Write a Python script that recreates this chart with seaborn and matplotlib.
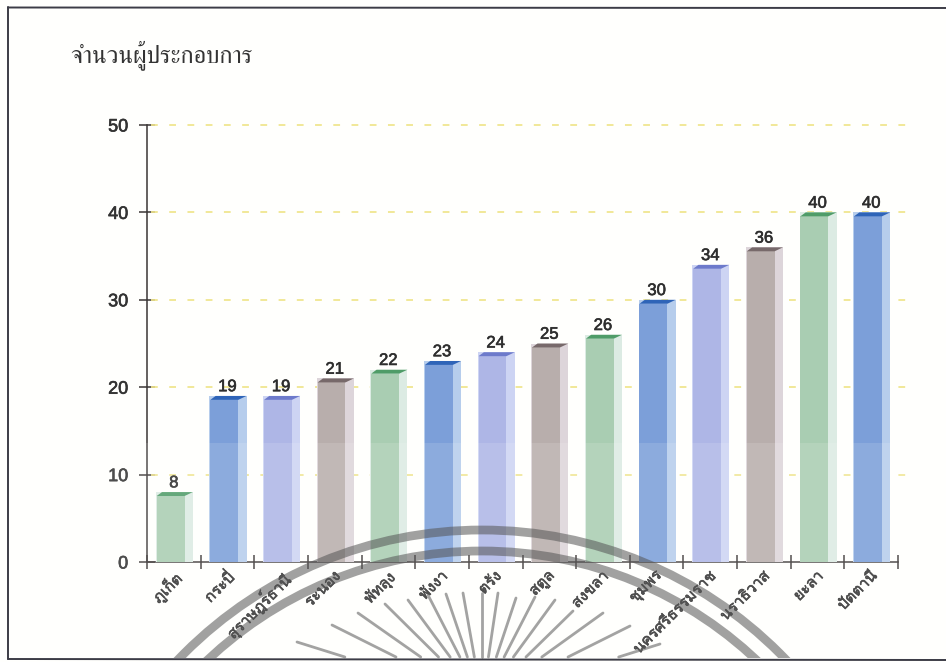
import matplotlib
matplotlib.use("Agg")
import matplotlib.pyplot as plt
import matplotlib.patheffects as pe
from matplotlib.patches import Circle, Polygon, Rectangle
import numpy as np
import pandas as pd
import seaborn as sns

provinces = ["ภูเก็ต", "กระบี่", "สุราษฎร์ธานี", "ระนอง", "พัทลุง", "พังงา", "ตรัง",
             "สตูล", "สงขลา", "ชุมพร", "นครศรีธรรมราช", "นราธิวาส", "ยะลา", "ปัตตานี"]
operators = [8, 19, 19, 21, 22, 23, 24, 25, 26, 30, 34, 36, 40, 40]
y_ticks = [0, 10, 20, 30, 40, 50]
y_title = "จำนวนผู้ประกอบการ"

# Four colour families repeat along the bars: front face, side face, top face.
front_cycle = ["#A9CDB2", "#7C9FD9", "#AEB6E6", "#B8AEAC"]
side_cycle = ["#DCEBE3", "#B6CDEC", "#CDD4F3", "#DDD5DA"]
top_cycle = ["#4F9C68", "#2E64B8", "#6D7ACB", "#77696A"]

W, H = 946, 662
sns.set_theme(style="white", rc={"axes.facecolor": "none"})
plt.rcParams["font.family"] = ["Liberation Sans", "Loma", "DejaVu Sans"]

# A hairline stroke gives small text a little more weight.
heavier = [pe.withStroke(linewidth=0.45, foreground="#333333")]

fig = plt.figure(figsize=(W / 100, H / 100), dpi=100, facecolor="#FFFFFD")
ax = fig.add_axes([147 / W, 1 - 562 / H, 751 / W, 437 / H])

positions = np.arange(len(provinces))
n = len(provinces)
frame = pd.DataFrame({
    "pos": positions,
    "value": operators,
    "side_pos": positions + 0.01,
    "front_pos": positions - 0.06,
    "front_height": np.array(operators) - 0.45,
})

# A wide pale bar behind gives the side face, a narrower one in front the main face.
sns.barplot(data=frame, x="side_pos", y="value", hue="pos", native_scale=True,
            palette=[side_cycle[i % 4] for i in range(n)], width=0.69, saturation=1,
            legend=False, linewidth=0, ax=ax, zorder=3)
sns.barplot(data=frame, x="front_pos", y="front_height", hue="pos", native_scale=True,
            palette=[front_cycle[i % 4] for i in range(n)], width=0.52, saturation=1,
            legend=False, linewidth=0, ax=ax, zorder=4)

ax.set_xlim(-0.5, n - 0.5)
ax.set_ylim(0, 50)

# Slanted top face on every bar, and the value above it.
for i, (p, v) in enumerate(zip(positions, operators)):
    left, right = p - 0.32, p + 0.20
    ax.add_patch(Polygon([(left, v - 0.45), (right, v - 0.45), (right + 0.155, v), (left + 0.1, v)],
                         closed=True, facecolor=top_cycle[i % 4], edgecolor="none", zorder=5))
    ax.text(p, v + 0.2, str(v), ha="center", va="bottom", fontsize=12,
            color="#2E2E2E", zorder=6, path_effects=heavier)

# Dashed guide lines run a little past the end of the axis.
for t in y_ticks[1:]:
    ax.plot([-0.43, n - 0.5 + 0.19], [t, t], color="#EFE58C", lw=1.25, zorder=1,
            dashes=(3.9, 6.6), clip_on=False)

ax.set_xticks(np.arange(n + 1) - 0.5)
ax.set_xticklabels([])
ax.set_yticks(y_ticks)
ax.tick_params(axis="x", which="major", direction="inout", length=10, width=1.1,
               color="#3A3635", bottom=True)
ax.tick_params(axis="y", which="major", direction="inout", length=11, width=1.1,
               color="#3A3635", left=True, pad=8, labelsize=13, labelcolor="#333333")
for label in ax.get_yticklabels():
    label.set_path_effects(heavier)
ax.set_ylabel("")
ax.set_xlabel("")
for name in ("top", "right"):
    ax.spines[name].set_visible(False)
for name in ("left", "bottom"):
    ax.spines[name].set_color("#3A3635")
    ax.spines[name].set_linewidth(1.1)
ax.set_axisbelow(True)

# Province names sit slanted under the middle of each bar.
for p, name in zip(positions, provinces):
    ax.annotate(name, (p, 0), xytext=(-1, -5), textcoords="offset points",
                rotation=45, ha="right", va="top", rotation_mode="anchor",
                fontsize=11, color="#333333", family=["Loma", "DejaVu Sans"],
                annotation_clip=False, zorder=8, path_effects=heavier)

fig.text(70 / W, 1 - 55 / H, y_title, fontsize=17.6, color="#333333", va="center",
         family=["FreeSerif", "DejaVu Serif"])

# Page overlay in pixel coordinates: frame, pale lower band and the faint seal.
page = fig.add_axes([0, 0, 1, 1], facecolor="none")
page.set_xlim(0, W)
page.set_ylim(H, 0)
page.axis("off")
page.add_patch(Rectangle((0, 443), W, H - 443, facecolor="white", alpha=0.13, edgecolor="none"))

clip = Rectangle((9, 8), W, 650, transform=page.transData)
seal_x, seal_y = 482, 951
for radius in (421, 400):
    ring = Circle((seal_x, seal_y), radius, facecolor="none", edgecolor="#555555",
                  linewidth=6.3, alpha=0.55)
    page.add_patch(ring)
    ring.set_clip_path(clip)

spoke_tips = [(297, 642), (332, 625), (358, 613), (385, 604), (408, 600), (428, 595),
              (446, 594), (463, 593), (482, 593), (498, 593), (516, 598), (535, 597),
              (555, 600), (573, 611), (603, 613), (630, 626), (660, 644)]
for tx, ty in spoke_tips:
    # Spokes run toward a shared point below the frame.
    t = (657 - ty) / (700 - ty)
    ex, ey = tx + (482 - tx) * t, ty + (700 - ty) * t
    page.plot([tx, ex], [ty, ey], color="#666666", lw=2.0, alpha=0.6,
              solid_capstyle="round")

page.plot([8, 8], [7, 659], color="#3C3C46", lw=1.4)
page.plot([8, W], [7.5, 8], color="#3C3C46", lw=1.4)
page.plot([8, W], [659, 660], color="#3C3C46", lw=1.4)

fig.savefig("out.png", dpi=100)
